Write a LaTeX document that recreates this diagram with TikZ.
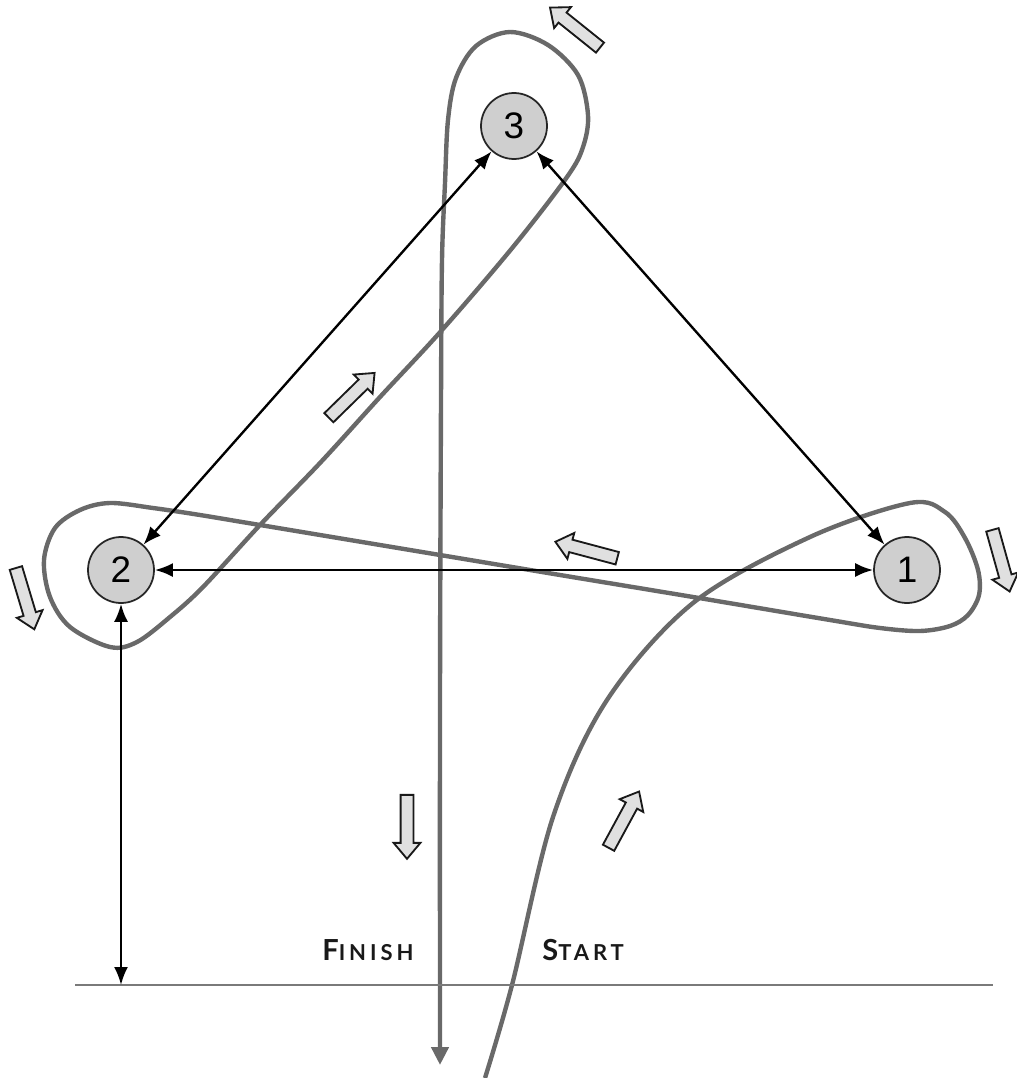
\documentclass[tikz,border=0pt]{standalone}
\usepackage{fontspec}
\setmainfont{Liberation Sans}
\newfontfamily\lblfont[LetterSpace=18]{Lato}
\newcommand\lblbig{\fontsize{16.5}{18}\selectfont}
\newcommand\lblsmall{\fontsize{12.5}{14}\selectfont}
\usetikzlibrary{arrows.meta,shapes.arrows}
\definecolor{routegray}{HTML}{696969}
\definecolor{groundgray}{HTML}{7A7A7A}
\definecolor{stationfill}{HTML}{CFCFCF}
\definecolor{blockfill}{HTML}{E0E0E0}
\begin{document}
\begin{tikzpicture}[x=0.02cm,y=-0.02cm,
  station/.style={circle, draw=black!85, line width=1pt, fill=stationfill,
    minimum size=1.32cm, inner sep=0pt, font=\fontsize{21}{21}\selectfont},
  link/.style={line width=1.35pt, draw=black,
    {Latex[length=0.36cm,width=0.28cm]}-{Latex[length=0.36cm,width=0.28cm]}},
  route/.style={line width=2.5pt, draw=routegray, line join=round,
    -{Triangle[length=0.36cm,width=0.34cm]}},
  ground/.style={line width=1.6pt, draw=groundgray},
  blockarrow/.style={single arrow, draw=black!90, fill=blockfill, line width=1.05pt,
    minimum height=1.28cm, inner xsep=0pt, inner ysep=0.11cm,
    single arrow head extend=0.14cm, single arrow tip angle=80, anchor=center},
  lbl/.style={inner sep=0pt, font=\lblfont\bfseries, text=black!90}
]
\useasboundingbox (0,0) rectangle (1017,1078);

% the route
\draw[route] plot[smooth, tension=0.55] coordinates {
  (485,1078) (512,985) (553,817) (607,700)
  (693,603) (810,537) (910,503) (945,512)
  (965,538) (978,570) (979,595) (968,615) (950,626) (920,631) (880,628)
  (830,620) (693,597) (560,575) (470,560) (260,525) (200,515) (153,508)
  (110,503) (80,510) (55,528) (44,560) (50,597) (70,627) (110,647)
  (137,642) (170,617) (203,587) (260,525) (320,463) (380,397) (442,330)
  (513,247) (567,177) (583,147) (588,115) (578,75) (548,45) (510,32)
  (476,46) (456,78) (448,120) (445,183) (442,260) (441,400) (440,700)
  (440,1065)};

% ground line
\coordinate (bl) at (75,985);
\coordinate (br) at (993,985);
\draw[ground] (bl) -- (br);

% stations
\node[station] (n3) at (514,126) {3};
\node[station] (n2) at (121,570) {2};
\node[station] (n1) at (907,570) {1};

% links
\coordinate (g2) at (121,985);
\draw[link] (n3) -- (n2);
\draw[link] (n3) -- (n1);
\draw[link] (n2) -- (n1);
\draw[link] (n2) -- (g2);

% direction arrows
\node[blockarrow, rotate=141.3] (a1) at (578,30) {};
\node[blockarrow, rotate=-73.3] (a2) at (24,595) {};
\node[blockarrow, rotate=-74.4] (a3) at (1000,557) {};
\node[blockarrow, rotate=165.1] (a4) at (590,551) {};
\node[blockarrow, rotate=44.4] (a5) at (349,398) {};
\node[blockarrow, rotate=-90] (a6) at (407,823) {};
\node[blockarrow, rotate=61.5] (a7) at (622,823) {};

% labels
\node[lbl, anchor=base west] (fin) at (322,960) {\lblbig F\lblsmall INISH};
\node[lbl, anchor=base west] (sta) at (542,960) {\lblbig S\lblsmall TART};
\end{tikzpicture}
\end{document}
